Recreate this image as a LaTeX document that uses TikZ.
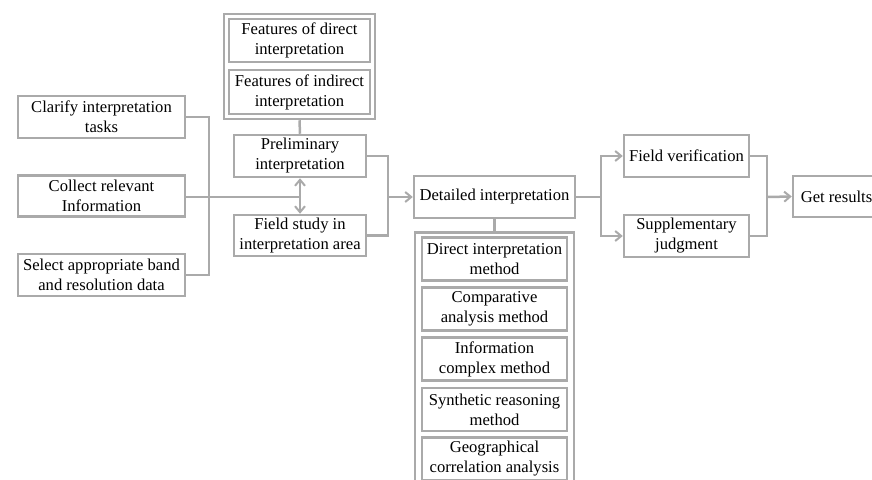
\documentclass[tikz,border=0pt]{standalone}
\usepackage{fontspec}
\setmainfont{Liberation Serif}
\usetikzlibrary{arrows.meta}
\definecolor{linegray}{RGB}{170,170,170}
\begin{document}
\begin{tikzpicture}[x=1pt,y=-1pt,
  box/.style={draw=linegray, line width=2.5pt, align=center, inner sep=0pt,
    font=\fontsize{16.6}{20}\selectfont, text=black},
  frame/.style={draw=linegray, line width=2.5pt, inner sep=0pt},
  link/.style={draw=linegray, line width=2.5pt},
  arr/.style={link, -{Straight Barb[length=6pt,width=10pt,line width=2pt]}}]
\useasboundingbox (0,0) rectangle (872,479);
\clip (0,0) rectangle (872,479);

% left column of preparatory steps
\node[box, minimum width=167, minimum height=42] (clar) at (101.5,117) {Clarify interpretation\\tasks};
\node[box, minimum width=167, minimum height=41] (coll) at (101.5,196) {Collect relevant\\Information};
\node[box, minimum width=167, minimum height=42] (sel) at (101.5,275) {Select appropriate band\\and resolution data};

% feature group
\node[frame, minimum width=151, minimum height=105] (feat) at (299.5,66.5) {};
\node[box, minimum width=141, minimum height=43] (fd) at (299.5,40.5) {Features of direct\\interpretation};
\node[box, minimum width=141, minimum height=44] (fi) at (299.5,92) {Features of indirect\\interpretation};

% preliminary stage
\node[box, minimum width=132, minimum height=42] (prelim) at (300,156) {Preliminary\\interpretation};
\node[box, minimum width=132, minimum height=41] (field) at (300,235.5) {Field study in\\interpretation area};

% detailed stage
\node[box, minimum width=161, minimum height=42] (det) at (494.5,197) {Detailed interpretation};
\node[frame, minimum width=159, minimum height=253] (meth) at (494.5,359) {};
\node[box, minimum width=145, minimum height=43] (m1) at (494.5,259) {Direct interpretation\\method};
\node[box, minimum width=145, minimum height=43] (m2) at (494.5,309) {Comparative\\analysis method};
\node[box, minimum width=145, minimum height=43] (m3) at (494.5,359) {Information\\complex method};
\node[box, minimum width=145, minimum height=43] (m4) at (494.5,409.5) {Synthetic reasoning\\method};
\node[box, minimum width=145, minimum height=43] (m5) at (494.5,459) {Geographical\\correlation analysis};

% checking stage and result
\node[box, minimum width=125, minimum height=42] (verif) at (686.5,156) {Field verification};
\node[box, minimum width=125, minimum height=42] (supp) at (686.5,236) {Supplementary\\judgment};
\node[box, minimum width=87, minimum height=41] (res) at (836.5,196.5) {Get results};

% bus points
\coordinate (busL) at (209,197);
\coordinate (jn) at (300,197);
\coordinate (busM) at (388,197);
\coordinate (busR1) at (601,197);
\coordinate (busR2) at (767,197);

% connectors
\draw[link] (clar.east) -| (busL) |- (sel.east);
\draw[link] (coll.east |- jn) -- (jn);
\draw[arr] (jn) -- (prelim.south);
\draw[arr] (jn) -- (field.north);
\draw[link] (feat.south) -- (prelim.north);
\draw[link] (prelim.east) -| (busM) |- (field.east);
\draw[arr] (busM) -- (det.west);
\draw[link] (det.south) -- (meth.north);
\draw[link] (det.east) -- (busR1);
\draw[arr] (busR1) |- (verif.west);
\draw[arr] (busR1) |- (supp.west);
\draw[link] (verif.east) -| (busR2) |- (supp.east);
\draw[arr] (busR2) -- (res.west);
\end{tikzpicture}
\end{document}
